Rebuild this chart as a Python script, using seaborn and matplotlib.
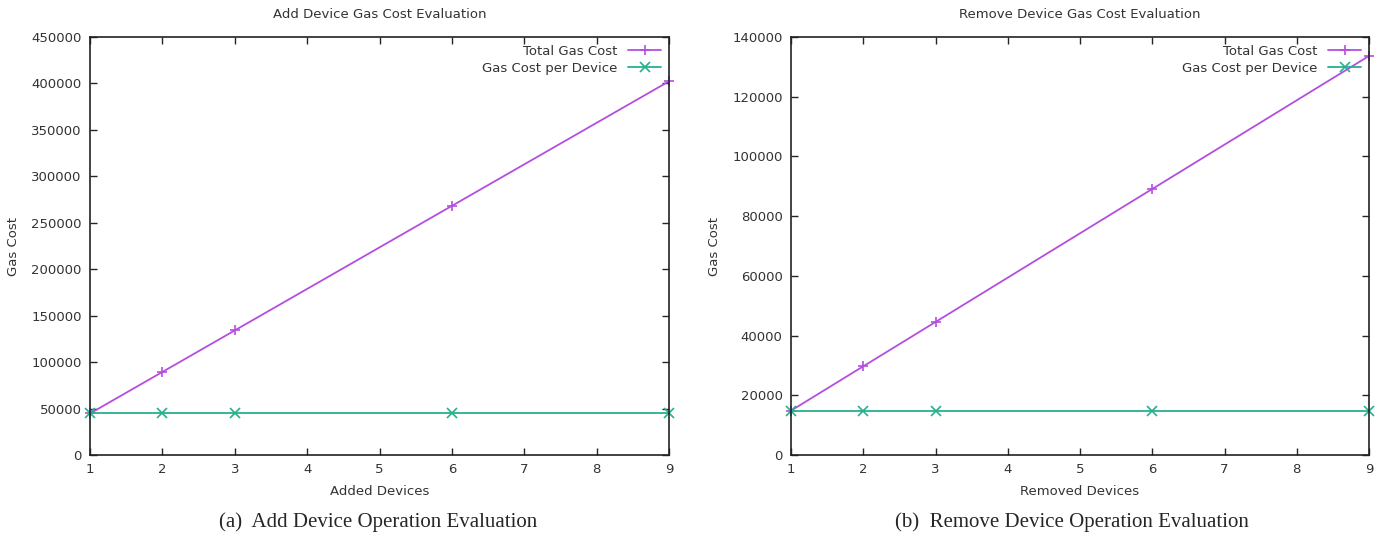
import matplotlib
matplotlib.use("Agg")
import matplotlib.pyplot as plt
import seaborn as sns

devices = [1, 2, 3, 6, 9]

add_total = [44700, 89400, 134100, 268200, 402300]
add_per_device = [44700, 44700, 44700, 44700, 44700]

remove_total = [14850, 29700, 44550, 89100, 133650]
remove_per_device = [14850, 14850, 14850, 14850, 14850]

series_names = ["Total Gas Cost", "Gas Cost per Device"]
purple = "#b44ee0"
green = "#27b08f"

sns.set_style("white")
plt.rcParams["font.family"] = ["DejaVu Sans"]

fig = plt.figure(figsize=(13.86, 5.37), dpi=100)
ax1 = fig.add_axes([90 / 1386, 82 / 537, 579 / 1386, 418 / 537])
ax2 = fig.add_axes([791 / 1386, 82 / 537, 578 / 1386, 418 / 537])


def draw(ax, total, per_dev, title, xlabel, ymax, ystep):
    for vals, name, col, mk in [(total, series_names[0], purple, "+"),
                                (per_dev, series_names[1], green, "x")]:
        sns.lineplot(x=devices, y=vals, ax=ax, color=col, label=name,
                     marker=mk, markersize=6.5, markeredgewidth=1.2,
                     markeredgecolor=col, linewidth=1.3, clip_on=False)
    ax.set_xlim(1, 9)
    ax.set_ylim(0, ymax)
    ax.set_xticks(range(1, 10))
    ax.set_yticks(range(0, ymax + 1, ystep))
    ax.set_title(title, fontsize=9.5, color="#333333", pad=14)
    ax.set_xlabel(xlabel, fontsize=9.5, color="#333333", labelpad=6)
    ax.set_ylabel("Gas Cost", fontsize=9.5, color="#333333", labelpad=8)
    ax.tick_params(direction="in", length=5, width=1, labelsize=9.5,
                   bottom=True, left=True, top=True, right=True,
                   labelcolor="#333333", pad=6)
    for s in ax.spines.values():
        s.set_color("#222222")
        s.set_linewidth(1.2)
    leg = ax.legend(loc="upper right", frameon=False, markerfirst=False,
                    fontsize=9.5, handlelength=2.5, borderaxespad=0.2,
                    labelspacing=0.3)
    for t in leg.get_texts():
        t.set_color("#333333")


draw(ax1, add_total, add_per_device, "Add Device Gas Cost Evaluation",
     "Added Devices", 450000, 50000)
draw(ax2, remove_total, remove_per_device, "Remove Device Gas Cost Evaluation",
     "Removed Devices", 140000, 20000)

fig.text(378 / 1386, 1 - 522 / 537, "(a)  Add Device Operation Evaluation",
         ha="center", va="center", fontsize=15, family="Liberation Serif")
fig.text(1072 / 1386, 1 - 522 / 537, "(b)  Remove Device Operation Evaluation",
         ha="center", va="center", fontsize=15, family="Liberation Serif")

fig.savefig("out.png", dpi=100)
